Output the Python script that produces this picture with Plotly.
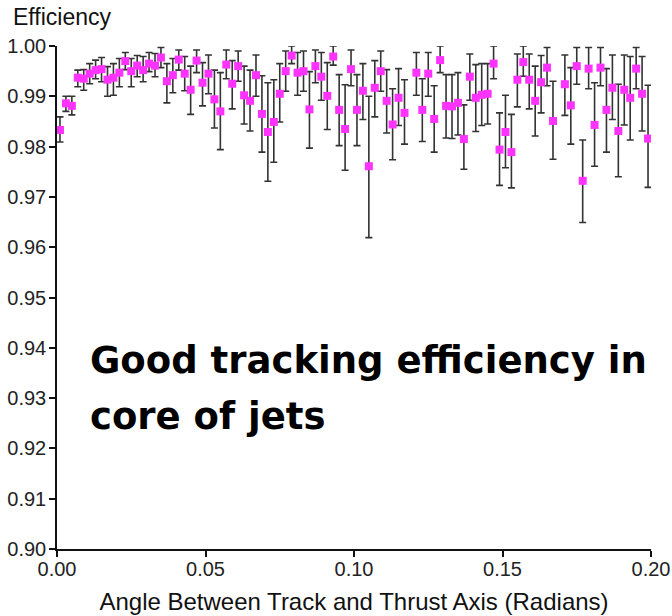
import plotly.graph_objects as go

# Bin centres (radians); bins 59 and 84 have no entry in the reference
angle = [round(0.001 + 0.002 * i, 3) for i in range(100)]

eff = [0.9833, 0.9886, 0.9881, 0.9937, 0.9935, 0.9945, 0.9952, 0.9954, 0.9933, 0.9937,
       0.9947, 0.9970, 0.9950, 0.9961, 0.9952, 0.9965, 0.9961, 0.9977, 0.9930, 0.9942,
       0.9973, 0.9945, 0.9913, 0.9971, 0.9927, 0.9945, 0.9894, 0.9870, 0.9963, 0.9925,
       0.9960, 0.9902, 0.9891, 0.9942, 0.9865, 0.9829, 0.9849, 0.9905, 0.9950, 0.9981,
       0.9947, 0.9950, 0.9874, 0.9960, 0.9939, 0.9901, 0.9979, 0.9873, 0.9835, 0.9954,
       0.9873, 0.9911, 0.9761, 0.9917, 0.9950, 0.9891, 0.9844, 0.9897, 0.9867, None,
       0.9947, 0.9873, 0.9945, 0.9855, 0.9972, 0.9881, 0.9880, 0.9887, 0.9815, 0.9939,
       0.9897, 0.9903, 0.9905, 0.9965, 0.9794, 0.9829, 0.9789, 0.9933, 0.9968, 0.9933,
       0.9891, 0.9928, 0.9957, 0.9851, None, 0.9924, 0.9882, 0.9960, 0.9732, 0.9955,
       0.9843, 0.9957, 0.9873, 0.9917, 0.9831, 0.9913, 0.9897, 0.9955, 0.9905, 0.9816]

eff_hi = [0.9859, 0.9900, 0.9900, 0.9952, 0.9953, 0.9965, 0.9972, 0.9977, 0.9959, 0.9965,
          0.9975, 0.9987, 0.9975, 0.9981, 0.9979, 0.9987, 0.9985, 0.9997, 0.9965, 0.9975,
          0.9992, 0.9979, 0.9960, 0.9992, 0.9967, 0.9982, 0.9952, 0.9947, 0.9992, 0.9971,
          0.9990, 0.9960, 0.9952, 0.9982, 0.9941, 0.9927, 0.9933, 0.9965, 0.9990, 1.0000,
          0.9987, 0.9990, 0.9949, 0.9992, 0.9987, 0.9967, 1.0000, 0.9943, 0.9923, 0.9992,
          0.9943, 0.9965, 0.9900, 0.9971, 0.9990, 0.9953, 0.9915, 0.9955, 0.9933, None,
          0.9987, 0.9935, 0.9987, 0.9921, 1.0000, 0.9943, 0.9943, 0.9947, 0.9883, 0.9984,
          0.9963, 0.9965, 0.9965, 1.0000, 0.9867, 0.9902, 0.9864, 0.9984, 1.0000, 0.9984,
          0.9960, 0.9981, 0.9997, 0.9930, None, 0.9982, 0.9957, 0.9997, 0.9813, 0.9997,
          0.9927, 0.9997, 0.9955, 0.9982, 0.9924, 0.9982, 0.9979, 0.9997, 0.9979, 0.9922]

eff_lo = [0.9809, 0.9870, 0.9863, 0.9919, 0.9912, 0.9925, 0.9935, 0.9929, 0.9900, 0.9902,
          0.9919, 0.9953, 0.9919, 0.9939, 0.9929, 0.9949, 0.9939, 0.9957, 0.9887, 0.9907,
          0.9952, 0.9911, 0.9864, 0.9947, 0.9881, 0.9905, 0.9837, 0.9794, 0.9935, 0.9875,
          0.9930, 0.9845, 0.9831, 0.9900, 0.9789, 0.9731, 0.9769, 0.9849, 0.9910, 0.9965,
          0.9902, 0.9910, 0.9797, 0.9927, 0.9892, 0.9834, 0.9962, 0.9802, 0.9753, 0.9921,
          0.9802, 0.9854, 0.9619, 0.9859, 0.9910, 0.9827, 0.9774, 0.9842, 0.9805, None,
          0.9902, 0.9810, 0.9900, 0.9789, 0.9947, 0.9817, 0.9816, 0.9823, 0.9755, 0.9892,
          0.9830, 0.9842, 0.9845, 0.9935, 0.9723, 0.9758, 0.9718, 0.9879, 0.9940, 0.9875,
          0.9821, 0.9867, 0.9921, 0.9775, None, 0.9862, 0.9805, 0.9924, 0.9649, 0.9915,
          0.9761, 0.9921, 0.9789, 0.9854, 0.9740, 0.9843, 0.9813, 0.9915, 0.9831, 0.9719]

x_ticks = [0.00, 0.05, 0.10, 0.15, 0.20]
x_labels = ["0.00", "0.05", "0.10", "0.15", "0.20"]
y_ticks = [0.90, 0.91, 0.92, 0.93, 0.94, 0.95, 0.96, 0.97, 0.98, 0.99, 1.00]
y_labels = ["0.90", "0.91", "0.92", "0.93", "0.94", "0.95", "0.96", "0.97", "0.98", "0.99", "1.00"]

xs, ys, ep, em = [], [], [], []
for a, v, h, l in zip(angle, eff, eff_hi, eff_lo):
    if v is None:
        continue
    xs.append(a)
    ys.append(v)
    ep.append(h - v)
    em.append(v - l)

fig = go.Figure()
fig.add_trace(go.Scatter(
    x=xs, y=ys, mode="markers",
    marker=dict(symbol="square", size=8, color="#ff33ff", line=dict(width=0)),
    error_y=dict(type="data", symmetric=False, array=ep, arrayminus=em,
                 color="#333333", thickness=1.6, width=3.5),
    showlegend=False,
))

axis_font = dict(family="Liberation Sans, Arial, sans-serif", size=20, color="#222222")
fig.update_xaxes(
    range=[0, 0.2], tickvals=x_ticks, ticktext=x_labels,
    showline=True, linecolor="#111111", linewidth=1.5,
    ticks="outside", ticklen=6, tickwidth=1.5, tickcolor="#111111",
    showgrid=False, zeroline=False, tickfont=axis_font, automargin=False,
    ticklabelstandoff=-5,
    title=dict(text="Angle Between Track and Thrust Axis (Radians)",
               font=dict(family="Liberation Sans, Arial, sans-serif", size=24, color="#111111"),
               standoff=14),
)
fig.update_yaxes(
    range=[0.9, 1.0], tickvals=y_ticks, ticktext=y_labels,
    showline=True, linecolor="#111111", linewidth=1.5,
    ticks="outside", ticklen=6, tickwidth=1.5, tickcolor="#111111",
    showgrid=False, zeroline=False, tickfont=axis_font, automargin=False,
    ticklabelstandoff=-1,
)

fig.update_layout(
    width=672, height=616,
    margin=dict(l=57, r=21, t=46, b=67),
    paper_bgcolor="white", plot_bgcolor="white",
    annotations=[
        dict(text="Efficiency", xref="paper", yref="paper", x=0, y=1,
             xanchor="left", yanchor="middle", xshift=-46, yshift=29, showarrow=False,
             font=dict(family="Liberation Sans, Arial, sans-serif", size=23, color="#111111")),
        dict(text="Good tracking efficiency in", xref="paper", yref="paper",
             x=0.053, y=0.374, xanchor="left", yanchor="middle", showarrow=False,
             font=dict(family="DejaVu Sans, sans-serif", size=37, color="black", weight="bold")),
        dict(text="core of jets", xref="paper", yref="paper",
             x=0.053, y=0.264, xanchor="left", yanchor="middle", showarrow=False,
             font=dict(family="DejaVu Sans, sans-serif", size=37, color="black", weight="bold")),
    ],
)

fig.write_html("out.html")
